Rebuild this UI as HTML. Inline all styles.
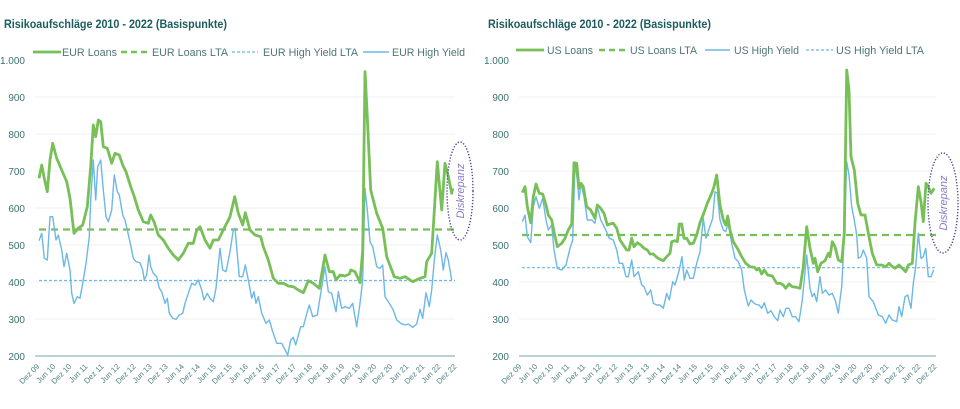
<!DOCTYPE html>
<html><head><meta charset="utf-8"><style>
html,body{margin:0;padding:0;background:#fff;}
svg{display:block;font-family:"Liberation Sans",sans-serif;}
.t{font-weight:bold;fill:#1b5d5e;font-size:11.5px;}
.lg{fill:#4f7576;font-size:11px;}
.yl{fill:#3c7273;font-size:10px;text-anchor:end;}
.xl{fill:#4f8283;font-size:7.8px;text-anchor:end;}
.dk{fill:#8a7dc8;font-size:11px;font-style:italic;text-anchor:middle;}
</style></head><body>
<svg width="960" height="409" viewBox="0 0 960 409" xmlns="http://www.w3.org/2000/svg">
<!-- LEFT CHART -->
<text class="t" x="4" y="28" textLength="223" lengthAdjust="spacingAndGlyphs">Risikoaufschläge 2010 - 2022 (Basispunkte)</text>
<line x1="33" y1="52" x2="61" y2="52" stroke="#77bf57" stroke-width="2.8"/>
<text class="lg" x="62" y="56" textLength="55" lengthAdjust="spacingAndGlyphs">EUR Loans</text>
<line x1="121" y1="52" x2="147" y2="52" stroke="#77bf57" stroke-width="2.4" stroke-dasharray="6 4"/>
<text class="lg" x="152" y="56" textLength="76" lengthAdjust="spacingAndGlyphs">EUR Loans LTA</text>
<line x1="232" y1="52" x2="258" y2="52" stroke="#6cb8e6" stroke-width="1.2" stroke-dasharray="3 2"/>
<text class="lg" x="263" y="56" textLength="95" lengthAdjust="spacingAndGlyphs">EUR High Yield LTA</text>
<line x1="363" y1="52" x2="389" y2="52" stroke="#6cb8e6" stroke-width="1.4"/>
<text class="lg" x="392" y="56" textLength="73" lengthAdjust="spacingAndGlyphs">EUR High Yield</text>

<g stroke="#f2f2f2" stroke-width="1">
<line x1="35" y1="97" x2="455" y2="97"/><line x1="35" y1="134" x2="455" y2="134"/><line x1="35" y1="171" x2="455" y2="171"/><line x1="35" y1="208" x2="455" y2="208"/><line x1="35" y1="245" x2="455" y2="245"/><line x1="35" y1="282" x2="455" y2="282"/><line x1="35" y1="319" x2="455" y2="319"/>
</g>
<g class="yl">
<text x="25" y="64">1.000</text><text x="25" y="101">900</text><text x="25" y="138">800</text><text x="25" y="175">700</text><text x="25" y="212">600</text><text x="25" y="249">500</text><text x="25" y="286">400</text><text x="25" y="323">300</text><text x="25" y="360">200</text>
</g>
<line x1="35" y1="356" x2="455" y2="356" stroke="#8cb9ba" stroke-width="1.3"/>
<line x1="39" y1="229.5" x2="455" y2="229.5" stroke="#77bf57" stroke-width="2.3" stroke-dasharray="7 5"/>
<line x1="39" y1="280.5" x2="455" y2="280.5" stroke="#6cb8e6" stroke-width="1.2" stroke-dasharray="3 2"/>
<polyline fill="none" stroke="#6cb8e6" stroke-width="1.4" stroke-linejoin="round" points="39,240.7 41.7,233.3 44.3,258.3 47.3,260 50,216.7 52.7,216.7 56,240 58.3,235 61.7,250 64,266.7 66.7,253.3 70,270 71.7,293.3 74,303.3 77.3,296.7 80,298.3 82.7,283.3 86,263.3 89.3,236.7 90.7,200 93.3,160 95.7,200 97.7,166.7 100.7,160 103.3,190 106,216.7 108.3,221.7 111.7,210 114.3,175 117.3,191.7 119.3,195 122.7,215 125,220 127.7,231.7 131,246.7 133.3,258.3 136,261.7 140,262.7 142.7,270 144.3,280 146.7,275 149,255 150.7,266.7 153.3,273.3 156.7,276.7 159.3,288.3 161.7,291.7 165,303.3 167.3,298.3 169.3,313.3 172.7,318.3 176,319.3 179.3,315 182.7,313.3 185,303.3 188.3,293.3 191.7,283.3 195,285 198.3,280 201.7,290 204,300 207.3,293.3 210,298.3 213.3,301.7 216,288.3 220,248.3 222.7,270 226,271.7 230,251.7 233.3,230 235,228.3 239.3,276.7 242.7,276.7 245.3,265 248.3,280 251.7,298.3 254,291.7 256,303.3 258.3,296.7 261.7,313.3 266,323.3 269.3,320 272.7,331.7 276.7,343.3 281.7,343.3 284.3,348.3 287.7,355 290.7,340 293.3,337.3 295.7,345 300.7,326.7 303.3,326.7 307.3,311.7 309.3,305 312.7,316.7 317.3,315 320.7,293.3 325,266.7 328.3,291.7 331.7,293.3 336,311.7 338.3,291.7 341.7,308.3 345,306.7 349.3,308.3 352.7,303.3 356.7,326.7 360,303.3 362.7,280 365,188.3 367.3,210 370,241.7 372.7,246.7 376.7,266.7 380,268.3 382.7,265 385,296.7 388.3,301.7 393.3,310 396.7,320 400.7,323.3 405,325 408.3,324 412.7,327.3 416.7,324 420,309.3 422.7,318.3 426,292.7 429.3,306.7 431.7,290 434.3,260 437.3,235 440.7,250 443.3,270 446,252.7 448.3,260 451.7,280"/>
<polyline fill="none" stroke="#77bf57" stroke-width="2.8" stroke-linejoin="round" points="39,178.3 41.7,165 44.3,178.3 47.3,191.7 50,160 52.7,143.3 56.7,158.3 61.7,170 66.7,181.7 70,198.3 74,233.3 78.3,228.3 82.7,225 87.3,206.7 90.7,166.7 93.3,125 95.7,136.7 98.3,120 100.7,121.7 103.3,146.7 107.3,148.3 111.7,163.3 115,153.3 119.3,155 122.7,165 126,171.7 130.7,186.7 134.3,196.7 138.3,210 143.3,221.7 148.3,223.3 150.7,215 154,221.7 158.3,235 163.3,240 168.3,248.3 173.3,255 178.3,260 183.3,253.3 188.3,243.3 193.3,243.3 196.7,230 200,226.7 205,240 210,248.3 213.3,240 218.3,240 223.3,230 230,216.7 234.7,196.7 238.3,213.3 242.7,225 245.3,212.7 250,230 255,235 260.7,236.7 263.3,246.7 268.3,260 273.3,278.3 278.3,283.3 283.3,283.3 288.3,286 293.3,286.7 298.3,290 303.3,292.7 308.3,280.7 313.3,283.3 319.3,288.3 325,255 329.3,271.7 333.3,271.7 336,280 340,275 345,276 349.3,274 350.7,270 355,271.7 360,282.7 362.7,250 365,71.7 367.3,116.7 370.7,190 376.7,213.3 382.7,228.3 386.7,256.7 394.3,276.7 400,278.3 405,276.7 412.7,281.7 420,278.3 425,276.7 426.7,261.7 431.7,253.3 437.3,161.7 441.7,210 445,163.3 448.3,176.7 451.7,193.3 452.7,188.3"/>
<ellipse cx="460" cy="191" rx="13" ry="49" fill="none" stroke="#4a46a0" stroke-width="1.4" stroke-dasharray="1.3 1.7"/>
<text class="dk" transform="translate(464,191) rotate(-90)">Diskrepanz</text>
<g class="xl">
<text transform="translate(40,367) rotate(-45)">Dez 09</text>
<text transform="translate(56,367) rotate(-45)">Jun 10</text>
<text transform="translate(72,367) rotate(-45)">Dez 10</text>
<text transform="translate(88.1,367) rotate(-45)">Jun 11</text>
<text transform="translate(104.2,367) rotate(-45)">Dez 11</text>
<text transform="translate(120.2,367) rotate(-45)">Jun 12</text>
<text transform="translate(136.2,367) rotate(-45)">Dez 12</text>
<text transform="translate(152.3,367) rotate(-45)">Jun 13</text>
<text transform="translate(168.3,367) rotate(-45)">Dez 13</text>
<text transform="translate(184.4,367) rotate(-45)">Jun 14</text>
<text transform="translate(200.4,367) rotate(-45)">Dez 14</text>
<text transform="translate(216.4,367) rotate(-45)">Jun 15</text>
<text transform="translate(232.5,367) rotate(-45)">Dez 15</text>
<text transform="translate(248.5,367) rotate(-45)">Jun 16</text>
<text transform="translate(264.6,367) rotate(-45)">Dez 16</text>
<text transform="translate(280.6,367) rotate(-45)">Jun 17</text>
<text transform="translate(296.6,367) rotate(-45)">Dez 17</text>
<text transform="translate(312.7,367) rotate(-45)">Jun 18</text>
<text transform="translate(328.7,367) rotate(-45)">Dez 18</text>
<text transform="translate(344.8,367) rotate(-45)">Jun 19</text>
<text transform="translate(360.8,367) rotate(-45)">Dez 19</text>
<text transform="translate(376.8,367) rotate(-45)">Jun 20</text>
<text transform="translate(392.9,367) rotate(-45)">Dez 20</text>
<text transform="translate(408.9,367) rotate(-45)">Jun 21</text>
<text transform="translate(425,367) rotate(-45)">Dez 21</text>
<text transform="translate(441,367) rotate(-45)">Jun 22</text>
<text transform="translate(457,367) rotate(-45)">Dez 22</text>
</g>

<!-- RIGHT CHART -->
<text class="t" x="488" y="28" textLength="223" lengthAdjust="spacingAndGlyphs">Risikoaufschläge 2010 - 2022 (Basispunkte)</text>
<line x1="516" y1="50" x2="544" y2="50" stroke="#77bf57" stroke-width="2.8"/>
<text class="lg" x="547" y="54" textLength="46" lengthAdjust="spacingAndGlyphs">US Loans</text>
<line x1="599" y1="50" x2="625" y2="50" stroke="#77bf57" stroke-width="2.4" stroke-dasharray="6 4"/>
<text class="lg" x="630" y="54" textLength="67" lengthAdjust="spacingAndGlyphs">US Loans LTA</text>
<line x1="705" y1="50" x2="730" y2="50" stroke="#6cb8e6" stroke-width="1.4"/>
<text class="lg" x="734" y="54" textLength="65" lengthAdjust="spacingAndGlyphs">US High Yield</text>
<line x1="806" y1="50" x2="833" y2="50" stroke="#6cb8e6" stroke-width="1.2" stroke-dasharray="3 2"/>
<text class="lg" x="836" y="54" textLength="88" lengthAdjust="spacingAndGlyphs">US High Yield LTA</text>

<g stroke="#f2f2f2" stroke-width="1">
<line x1="519" y1="97" x2="936" y2="97"/><line x1="519" y1="134" x2="936" y2="134"/><line x1="519" y1="171" x2="936" y2="171"/><line x1="519" y1="208" x2="936" y2="208"/><line x1="519" y1="245" x2="936" y2="245"/><line x1="519" y1="282" x2="936" y2="282"/><line x1="519" y1="319" x2="936" y2="319"/>
</g>
<g class="yl">
<text x="509" y="64">1.000</text><text x="509" y="101">900</text><text x="509" y="138">800</text><text x="509" y="175">700</text><text x="509" y="212">600</text><text x="509" y="249">500</text><text x="509" y="286">400</text><text x="509" y="323">300</text><text x="509" y="360">200</text>
</g>
<line x1="519" y1="356" x2="936" y2="356" stroke="#8cb9ba" stroke-width="1.3"/>
<line x1="522" y1="235" x2="936" y2="235" stroke="#77bf57" stroke-width="2.3" stroke-dasharray="7 5"/>
<line x1="522" y1="267.7" x2="936" y2="267.7" stroke="#6cb8e6" stroke-width="1.2" stroke-dasharray="3 2"/>
<polyline fill="none" stroke="#6cb8e6" stroke-width="1.4" stroke-linejoin="round" points="522.3,221.7 525,215 527.3,236.7 530.7,242.7 533.3,206.7 536,196.7 539.3,208.3 542.7,198.3 546,220 548.3,230 551.7,225 554,250 557.3,268.3 561.7,270 566,265 570,248.3 572.7,240 575,162.7 577.3,180 579,200 581,183.3 584,196.7 587.3,220 591.7,220 595,223.3 597.3,206.7 600.7,220 605,228.3 609.3,238.3 613.3,240 616.7,250 619.3,263.3 622.7,263.3 626,276.7 628.3,276.7 631.7,260 634,276.7 638.3,271.7 641.7,285 644,286.7 647.3,295 650.7,290 653.3,303.3 656.7,305 660,305 663.3,308.3 666.7,293.3 669.3,300 672.7,281.7 675,285 679.3,270 682,256.7 684.3,280 686.7,270 690,278.3 693.3,278.3 696.7,263.3 700,251.7 703.3,218.3 706,238.3 709.3,228.3 712.7,218.3 715,191.7 717.3,193.3 720,220 723.3,230 725.7,231.7 728.3,223.3 731.7,243.3 735,258.3 738.3,261.7 741.7,270 744.3,290 748.3,306 751,300 755,304 759,305 761.7,308.3 764.3,302.7 767.7,313.3 771,310.7 774.3,316.7 777.7,320.7 780,310 783.3,316.7 786,308.3 789,308.3 792.3,316.7 795.7,316.7 799,321.7 802.3,300 806.7,255 810,288.3 812.3,296.7 814.3,293.3 816.7,301.7 820,276.7 822.3,293.3 825.7,290 829,295 832.3,293.3 835.7,301.7 838.3,313.3 841.7,286.7 844.3,236.7 846.7,161.7 849,175 851.7,206.7 854.3,220 856.7,235 858.3,258.3 861,256.7 863.3,250 866.7,258.3 869,296.7 873.3,301.7 878.3,315 882.3,316.7 885.7,323.3 889,315 892.3,320 896.7,321.7 899,306.7 901.7,316.7 905,296.7 907.7,295 911,308.3 913.3,283.3 915.7,266.7 918.3,233.3 921,258.3 923.3,256.7 925.7,248.3 928.3,276.7 931,276.7 933.7,270"/>
<polyline fill="none" stroke="#77bf57" stroke-width="2.8" stroke-linejoin="round" points="522.3,192.7 525,186.7 527.3,206.7 530.7,222.7 533.3,196.7 536,184 539.3,193.3 542.7,194 546,205 548.3,215 551.7,220 554,231.7 557.3,246.7 561.7,243.3 565,238.3 568.3,230 571.7,224 574,162.7 576.7,163.3 579,188.3 581,183.3 583.3,186.7 586.7,206.7 590.7,210 595,218.3 597.3,205 600.7,208.3 604,213.3 607.3,225 610,224 613.3,223.3 616.7,228.3 620,240 623.3,245 626.7,250 629,250 631.7,238.3 634,246.7 637.3,242.7 640.7,245 644,248.3 647.3,250 650,254 653.3,254 656.7,257.3 660,259.3 663.3,260.7 666.7,256.7 670,253.3 671.7,241.7 675,240.7 677.3,241.7 679.3,224 681.7,224 684,238.3 686.7,238.3 690,244 693.3,243.3 696.7,235 700,222.7 704,212.7 707.3,203.3 711.7,193.3 714,186.7 716.7,175 720,205 723.3,220 725.7,225 727.7,216 730,230 733.3,241.7 738.3,250 741.7,256.7 745.7,263.3 750,266.7 754.3,267.3 756.7,270 759,268.3 761.7,274 764.3,270 767.7,275 772.3,276 776.7,283.3 780,283.3 783.3,285 785.7,288.3 789,284 792.3,286.7 796.7,287.3 800,288.3 803.3,266.7 806.7,226.7 810,248.3 813.3,263.3 815,258.3 817.7,271.7 821,263.3 825,260.7 828.3,253.3 830,256.7 832.3,241.7 835,246.7 838.3,260 841.7,261.7 844.3,233.3 846.7,70 849,90 851,156.7 854.3,170 857.7,203.3 861,215 865,215 869,236.7 872.3,253.3 876.7,265 881.7,265 885.7,266.7 889,263.3 891.7,266 895,268.3 899,265 902.3,268.3 905.7,271.7 908.3,265 912.3,263.3 915,223.3 918.3,186.7 921,201.7 923.3,221.7 926,183.3 928.3,186.7 931,193.3 934.3,188.3"/>
<ellipse cx="943" cy="203" rx="15" ry="50" fill="none" stroke="#4a46a0" stroke-width="1.4" stroke-dasharray="1.3 1.7"/>
<text class="dk" transform="translate(947,203) rotate(-90)">Diskrepanz</text>
<g class="xl">
<text transform="translate(522,367) rotate(-45)">Dez 09</text>
<text transform="translate(538,367) rotate(-45)">Jun 10</text>
<text transform="translate(553.9,367) rotate(-45)">Dez 10</text>
<text transform="translate(569.9,367) rotate(-45)">Jun 11</text>
<text transform="translate(585.8,367) rotate(-45)">Dez 11</text>
<text transform="translate(601.8,367) rotate(-45)">Jun 12</text>
<text transform="translate(617.8,367) rotate(-45)">Dez 12</text>
<text transform="translate(633.7,367) rotate(-45)">Jun 13</text>
<text transform="translate(649.7,367) rotate(-45)">Dez 13</text>
<text transform="translate(665.6,367) rotate(-45)">Jun 14</text>
<text transform="translate(681.6,367) rotate(-45)">Dez 14</text>
<text transform="translate(697.6,367) rotate(-45)">Jun 15</text>
<text transform="translate(713.5,367) rotate(-45)">Dez 15</text>
<text transform="translate(729.5,367) rotate(-45)">Jun 16</text>
<text transform="translate(745.5,367) rotate(-45)">Dez 16</text>
<text transform="translate(761.4,367) rotate(-45)">Jun 17</text>
<text transform="translate(777.4,367) rotate(-45)">Dez 17</text>
<text transform="translate(793.3,367) rotate(-45)">Jun 18</text>
<text transform="translate(809.3,367) rotate(-45)">Dez 18</text>
<text transform="translate(825.3,367) rotate(-45)">Jun 19</text>
<text transform="translate(841.2,367) rotate(-45)">Dez 19</text>
<text transform="translate(857.2,367) rotate(-45)">Jun 20</text>
<text transform="translate(873.1,367) rotate(-45)">Dez 20</text>
<text transform="translate(889.1,367) rotate(-45)">Jun 21</text>
<text transform="translate(905.1,367) rotate(-45)">Dez 21</text>
<text transform="translate(921,367) rotate(-45)">Jun 22</text>
<text transform="translate(937,367) rotate(-45)">Dez 22</text>
</g>
</svg>
</body></html>
